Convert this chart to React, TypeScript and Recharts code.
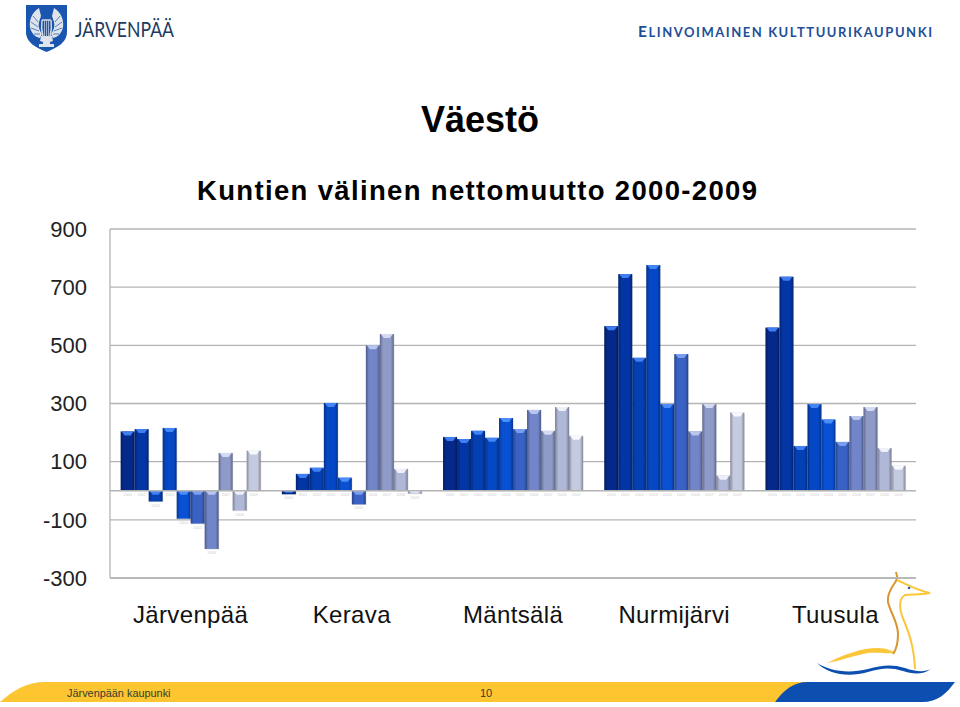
import React from "react";
import { BarChart, Bar, XAxis, YAxis, CartesianGrid, ReferenceLine } from "recharts";

const municipalities = ["Järvenpää", "Kerava", "Mäntsälä", "Nurmijärvi", "Tuusula"];
const years = ["2000", "2001", "2002", "2003", "2004", "2005", "2006", "2007", "2008", "2009"];
const jarvenpaa = [204, 212, -37, 216, -96, -113, -200, 130, -68, 138];
const kerava = [-12, 58, 79, 302, 45, -47, 500, 539, 75, -10];
const mantsala = [185, 178, 206, 182, 250, 212, 278, 206, 288, 189];
const nurmijarvi = [566, 745, 457, 776, 298, 470, 204, 298, 52, 269];
const tuusula = [561, 736, 154, 298, 245, 168, 257, 288, 147, 86];
const allValues = [jarvenpaa, kerava, mantsala, nurmijarvi, tuusula];
const yTicks = [-300, -100, 100, 300, 500, 700, 900];
const seriesColors = ["#04298a", "#0435a4", "#0440b4", "#0547c4", "#0a50d2", "#3a62c4", "#7185c8", "#8e9ac8", "#b0b8d8", "#c4cae0"];
const bevelColors = ["#3f7df0", "#3f7df0", "#3f80f4", "#4286f6", "#4a8cf8", "#7a9df0", "#b8c6ee", "#d4daf2", "#eef0f9", "#f8f9fd"];

const rows = municipalities.map((name, i) => {
  const row: Record<string, string | number> = { name };
  years.forEach((y, j) => { row[y] = allValues[i][j]; });
  return row;
});

const FONT = "'Liberation Sans', Arial, sans-serif";

function shade(hex: string, f: number) {
  const n = parseInt(hex.slice(1), 16);
  const c = [(n >> 16) & 255, (n >> 8) & 255, n & 255].map((v) => Math.round(v * f));
  return `rgb(${c[0]},${c[1]},${c[2]})`;
}

function makeShape(idx: number) {
  return (props: any) => {
    const { x, y, width, height } = props;
    const top = Math.min(y, y + height);
    const h = Math.abs(height);
    const bev = Math.min(4, h * 0.6);
    const inset = Math.min(4, width / 3);
    return (
      <g>
        <rect x={x + 0.6} y={top + 0.6} width={width} height={h} fill="#555" opacity={0.2} />
        <rect x={x} y={top} width={width} height={h} fill={`url(#barGrad${idx})`} />
        <polygon
          points={`${x + 1},${top} ${x + width - 1},${top} ${x + width - inset},${top + bev} ${x + inset},${top + bev}`}
          fill={bevelColors[idx]}
        />
        <text x={x + width / 2} y={top + h + 5} textAnchor="middle" fontSize={4} fill="#cfcfcf" fontFamily={FONT}>
          {years[idx]}
        </text>
      </g>
    );
  };
}

function Decorations() {
  return (
    <svg width={960} height={707} style={{ position: "absolute", left: 0, top: 0 }}>
      {/* Järvenpää crest */}
      <path d="M26,5 H67 V32 C67,43 56,48 46.5,52 C37,48 26,43 26,32 Z" fill="#1a56b0" />
      <g fill="#dfe4ea">
        <path d="M39,8 C32,12 29,20 30,27 C31,33 35,37 40,38 L42,34 C39,30 38,26 39,22 L41,16 Z" />
        <path d="M54,8 C61,12 64,20 63,27 C62,33 58,37 53,38 L51,34 C54,30 55,26 54,22 L52,16 Z" />
        <path d="M41,36 H52 L53,41 L50,42 V44 H54 V47 H39 V44 H43 V42 L40,41 Z" />
      </g>
      <g fill="none" stroke="#1a56b0" strokeWidth={0.7}>
        <path d="M33,16 L38,22 M31,22 L38,27 M31,28 L39,31 M34,34 L40,34" />
        <path d="M60,16 L55,22 M62,22 L55,27 M62,28 L54,31 M59,34 L53,34" />
      </g>
      <g fill="none" stroke="#cfd6e2">
        <path d="M42,20 H51 M42,20 C41,27 42,33 43,37 M51,20 C52,27 51,33 50,37" strokeWidth={1.5} />
        <path d="M44.5,20 V37 M46.5,20 V37 M48.5,20 V37" strokeWidth={0.7} />
      </g>
      <text x={75} y={37} fontFamily="Lato, 'Open Sans', sans-serif" fontSize={22} fill="#1c3b5e" textLength={99} lengthAdjust="spacingAndGlyphs">
        JÄRVENPÄÄ
      </text>
      <text x={638} y={37} fontFamily="Lato, 'Open Sans', sans-serif" fontWeight={700} fill="#1e4f98" textLength={294} lengthAdjust="spacing">
        <tspan fontSize={15.5}>E</tspan>
        <tspan fontSize={13}>LINVOIMAINEN KULTTUURIKAUPUNKI</tspan>
      </text>

      <text x={480} y={132} textAnchor="middle" fontFamily={FONT} fontWeight={700} fontSize={36} fill="#000">
        Väestö
      </text>
      <text x={197} y={200} fontFamily={FONT} fontWeight={700} fontSize={27.5} fill="#000" textLength={560} lengthAdjust="spacing">
        Kuntien välinen nettomuutto 2000-2009
      </text>

      {/* Footer */}
      <path d="M0,702 C14,690 26,682 46,682 H810 V702 Z" fill="#fdc52f" />
      <path d="M775,702 C784,690 793,682 808,682 H955 C946,694 938,702 922,702 Z" fill="#0d4fb0" />
      <text x={67} y={697} fontFamily={FONT} fontSize={10.9} fill="#33402f">
        Järvenpään kaupunki
      </text>
      <text x={480} y={697} fontFamily={FONT} fontSize={11} fill="#33402f">
        10
      </text>

      {/* Bird */}
      <path d="M827,663 C845,654 862,648 878,648 C886,648 892,651 896,653 C888,654 878,652 868,653 C855,655 840,661 827,663 Z" fill="#fbc63a" />
      <path d="M817,663 C830,671 848,674 868,669 C882,665 892,664 905,668 C916,672 925,672 931,669 C923,675 912,674 903,671 C890,667 882,668 868,672 C848,678 828,674 817,663 Z" fill="#0d4fb0" />
      <path d="M896,572 C898,578 897,580 894,584 C890,590 887,596 888,602 C890,612 898,622 898,634 C898,644 896,650 893,654" fill="none" stroke="#d9952f" strokeWidth={2} />
      <path d="M897,580 C906,584 916,590 930,593 C920,595 912,594 905,595 C900,598 899,606 902,616 C908,630 914,645 915,669" fill="none" stroke="#fbc63a" strokeWidth={2} />
      <circle cx={909} cy={588} r={1.3} fill="#2a5fb0" />
    </svg>
  );
}

export default function App() {
  return (
    <div style={{ position: "absolute", left: 0, top: 0, width: 960, height: 707, background: "#fff", overflow: "hidden" }}>
      <Decorations />
      <div style={{ position: "absolute", left: 0, top: 0 }}>
        <BarChart
          width={960}
          height={707}
          data={rows}
          margin={{ top: 229, right: 44, bottom: 0, left: 0 }}
          barCategoryGap="6.6%"
          barGap={0}
        >
          <defs>
            {seriesColors.map((c, i) => (
              <linearGradient id={`barGrad${i}`} key={c} x1="0" y1="0" x2="1" y2="0">
                <stop offset="0" stopColor={shade(c, 0.68)} />
                <stop offset="0.22" stopColor={c} />
                <stop offset="0.78" stopColor={c} />
                <stop offset="1" stopColor={shade(c, 0.68)} />
              </linearGradient>
            ))}
          </defs>
          <CartesianGrid vertical={false} stroke="#b4b4b4" strokeWidth={1.3} />
          <XAxis
            dataKey="name"
            height={129}
            tickLine={false}
            axisLine={{ stroke: "#b4b4b4", strokeWidth: 1.3 }}
            tickMargin={22}
            interval={0}
            tick={{ fontFamily: FONT, fontSize: 24, fill: "#111", letterSpacing: 0.35 }}
          />
          <YAxis
            width={110}
            domain={[-300, 900]}
            ticks={yTicks}
            interval={0}
            tickLine={false}
            axisLine={{ stroke: "#b4b4b4", strokeWidth: 1.3 }}
            tickMargin={17}
            tick={{ fontFamily: FONT, fontSize: 22, fill: "#222" }}
          />
          <ReferenceLine y={0} stroke="#b4b4b4" strokeWidth={1.3} />
          {years.map((y, i) => (
            <Bar key={y} dataKey={y} fill={seriesColors[i]} shape={makeShape(i)} isAnimationActive={false} />
          ))}
        </BarChart>
      </div>
    </div>
  );
}
